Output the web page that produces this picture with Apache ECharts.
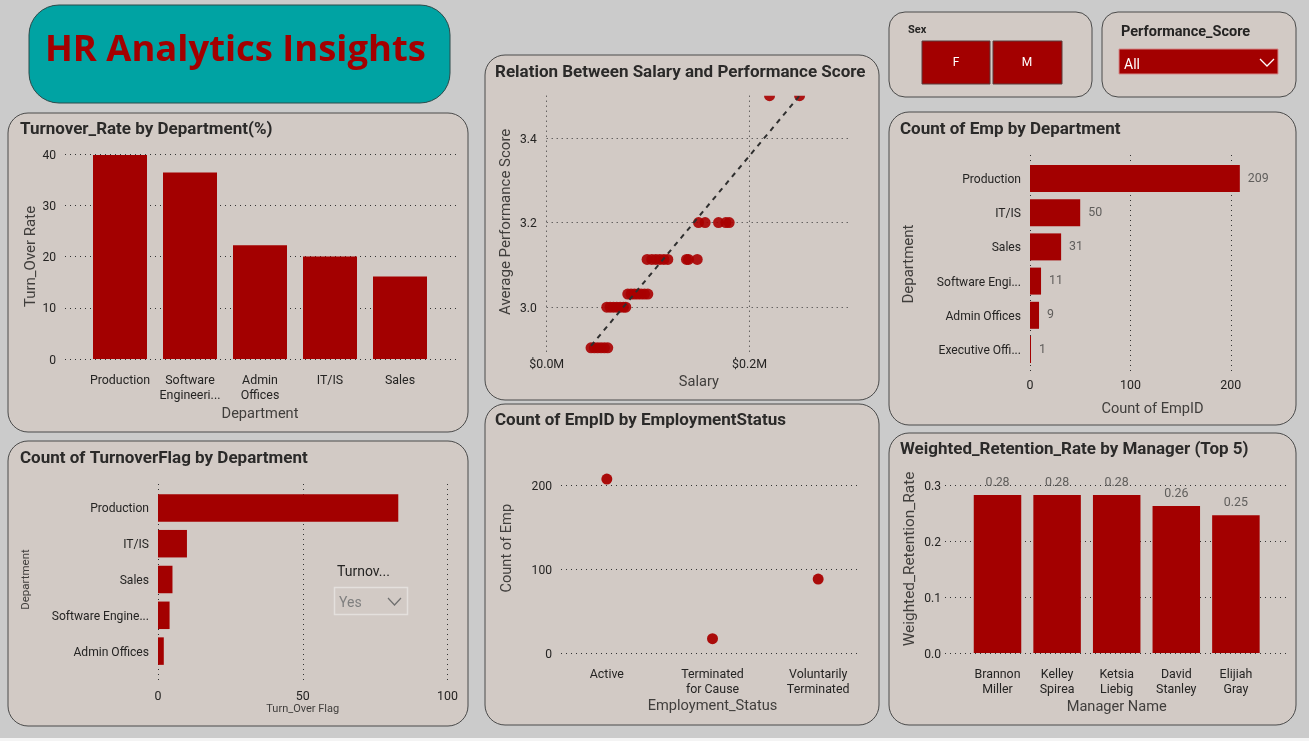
<!DOCTYPE html>
<html><head><meta charset="utf-8">
<style>html,body{margin:0;padding:0;background:#cbcbcb}#c{width:1309px;height:741px}</style>
<script src="https://cdn.jsdelivr.net/npm/echarts@6/dist/echarts.min.js"></script>
</head><body><div id="c"></div>
<script>
const rateDepts = ['Production','Software\nEngineeri...','Admin\nOffices','IT/IS','Sales'];
const rateValues = [39.8,36.4,22.2,20,16.1];
const flagDepts = ['Production','IT/IS','Sales','Software Engine...','Admin Offices'];
const flagValues = [83,10,5,4,2];
const statusCats = ['Active','Terminated\nfor Cause','Voluntarily\nTerminated'];
const statusValues = [207,17,88];
const empDepts = ['Production','IT/IS','Sales','Software Engi...','Admin Offices','Executive Offi...'];
const empValues = [209,50,31,11,9,1];
const managers = ['Brannon\nMiller','Kelley\nSpirea','Ketsia\nLiebig','David\nStanley','Elijiah\nGray'];
const retention = [0.282,0.282,0.282,0.2625,0.246];
const retentionLabels = ['0.28','0.28','0.28','0.26','0.25'];
const salaryPoints = [
 [0.0437,2.904],[0.0470,2.904],[0.0503,2.904],[0.0536,2.904],[0.0569,2.904],[0.0602,2.904],
 [0.0592,3.0],[0.0625,3.0],[0.0658,3.0],[0.0691,3.0],[0.0724,3.0],[0.0757,3.0],[0.0780,3.0],
 [0.0799,3.031],[0.0832,3.031],[0.0865,3.031],[0.0898,3.031],[0.0931,3.031],[0.0964,3.031],[0.0997,3.031],
 [0.0990,3.113],[0.1036,3.113],[0.1076,3.113],[0.1115,3.113],[0.1155,3.113],[0.1194,3.113],[0.1378,3.113],[0.1398,3.113],[0.1484,3.113],
 [0.1497,3.2],[0.1562,3.2],[0.1694,3.2],[0.1766,3.2],[0.1799,3.2],
 [0.2197,3.5],[0.2493,3.5]
];
const trendLine = [[0.0437,2.9086],[0.2493,3.5]];

const RED='#A30000', PANEL='#D2CAC5', FONT='Roboto, sans-serif', DARK='#252423', NAME='#403E3C';
const dotted={show:true,lineStyle:{type:[1,4],color:'#333',width:1}};
const tick={fontFamily:FONT,fontSize:12.4,color:DARK};
const yTick=Object.assign({},tick,{fontSize:12.1,verticalAlign:'top',lineHeight:3});
const nm=(size,padding)=>({fontFamily:FONT,fontSize:size||14.6,color:NAME,padding:padding||0});
const none={show:false};

const panels=[[8,113,460,319],[8,441,460,285],[485,55,394,345],[485,404,394,321],[889,112,407,313],[889,433,407,292],[889,12,203,85],[1102,12,194,85]];
const graphic=[
 {type:'rect',z:-5,shape:{x:0,y:738,width:1309,height:3},style:{fill:'#f4f4f4'}},
 {type:'rect',z:-4,shape:{x:29,y:5,width:421,height:98,r:30},style:{fill:'#00A3A3',stroke:'#2b4a4a',lineWidth:1}}
];
panels.forEach(p=>graphic.push({type:'rect',z:-4,shape:{x:p[0],y:p[1],width:p[2],height:p[3],r:p[3]>100?20:16},style:{fill:PANEL,stroke:'#4a4a4a',lineWidth:1}}));
graphic.push(
 {type:'rect',z:8,shape:{x:755,y:86,width:55,height:9.7},style:{fill:PANEL}},
 {type:'rect',z:5,shape:{x:922,y:41,width:68,height:43},style:{fill:RED,stroke:'#5a3a3a',lineWidth:1}},
 {type:'rect',z:5,shape:{x:993,y:41,width:69,height:43},style:{fill:RED,stroke:'#5a3a3a',lineWidth:1}},
 {type:'text',z:6,style:{x:956,y:63,text:'F',align:'center',verticalAlign:'middle',fill:'#fff',font:'12px '+FONT}},
 {type:'text',z:6,style:{x:1027,y:63,text:'M',align:'center',verticalAlign:'middle',fill:'#fff',font:'12px '+FONT}},
 {type:'rect',z:5,shape:{x:1119,y:49,width:159,height:25},style:{fill:RED,stroke:'#d58a8a',lineWidth:1}},
 {type:'text',z:6,style:{x:1124,y:65,text:'All',verticalAlign:'middle',fill:'#fff',font:'14px '+FONT}},
 {type:'polyline',z:6,shape:{points:[[1260,59],[1267,66],[1274,59]]},style:{stroke:'#fff',lineWidth:1.3,fill:null}},
 {type:'rect',z:5,shape:{x:334.5,y:587.5,width:73,height:27},style:{fill:PANEL,stroke:'#e4e0dd',lineWidth:1.5}},
 {type:'text',z:6,style:{x:339,y:603,text:'Yes',verticalAlign:'middle',fill:'#7f7f7f',font:'14px '+FONT}},
 {type:'polyline',z:6,shape:{points:[[388,598],[394.5,605],[401,598]]},style:{stroke:'#6f6f6f',lineWidth:1.2,fill:null}},
 {type:'text',z:6,style:{x:337,y:572,text:'Turnov...',verticalAlign:'middle',fill:DARK,font:'14px '+FONT}}
);
const ttl=(text,left,top,size,color,family)=>({text,left,top,padding:0,textStyle:{fontFamily:family||FONT,fontSize:size||17,fontWeight:'bold',color:color||'#2b2a29'}});
const title=[
 ttl('HR Analytics Insights',45,33,36.4,RED,'"Open Sans", sans-serif'),
 ttl('Turnover_Rate by Department(%)',20,121),
 ttl('Count of TurnoverFlag by Department',20,450),
 ttl('Relation Between Salary and Performance Score',495,64),
 ttl('Count of EmpID by EmploymentStatus',495,412),
 ttl('Count of Emp by Department',900,121),
 ttl('Weighted_Retention_Rate by Manager (Top 5)',900,441),
 {text:'Sex',left:908,top:25,padding:0,textStyle:{fontFamily:FONT,fontSize:11,fontWeight:'bold',color:DARK}},
 ttl('Performance_Score',1121,25,14.5,DARK)
];
const box=(l,t,r,b)=>({left:l,top:t,width:r-l,height:b-t,containLabel:false});
const grid=[
 box(85,154,435,359), box(65,154,458,359),
 box(158,490,447.5,669), box(158,484,447.5,683),
 box(546.7,95.7,851,352),
 box(554,451.4,871,653), box(561,451.4,860,653),
 box(1030,161.4,1281,366.6), box(1030,155,1281,372),
 box(967.7,485,1265.7,653), box(945,485,1287,653)
];
const hidVal=(g,min,max,extra)=>Object.assign({type:'value',gridIndex:g,min,max,show:false},extra||{});
const catX=(g,data,name,gap)=>({type:'category',gridIndex:g,data,axisLine:none,axisTick:none,splitLine:none,
  axisLabel:Object.assign({interval:0,margin:14,lineHeight:15},tick),name,nameLocation:'middle',nameGap:gap,nameTextStyle:nm()});
const catY=(g,data,name,gap,ns)=>({type:'category',gridIndex:g,data,inverse:true,axisLine:none,axisTick:none,splitLine:none,
  axisLabel:Object.assign({interval:0,margin:9},yTick),name,nameLocation:'middle',nameGap:gap,nameTextStyle:ns||nm()});
const valY=(g,min,max,interval,name,gap,fmt,ns,margin)=>({type:'value',gridIndex:g,min,max,interval,axisLine:none,axisTick:none,
  splitLine:Object.assign({showMaxLine:true},dotted),
  axisLabel:Object.assign({margin:margin||9,showMaxLabel:true,formatter:fmt},yTick),name,nameLocation:'middle',nameGap:gap,nameTextStyle:ns||nm()});
const valX=(g,min,max,interval,name,gap,ns,hideEnd)=>({type:'value',gridIndex:g,min,max,interval,axisLine:none,axisTick:none,
  splitLine:Object.assign({showMaxLine:!hideEnd},dotted),
  axisLabel:Object.assign({margin:8,showMaxLabel:!hideEnd},tick),name,nameLocation:'middle',nameGap:gap,nameTextStyle:ns||nm()});

const xAxis=[
 catX(0,rateDepts,'Department',48), hidVal(1,0,1),
 hidVal(2,0,100), valX(3,0,100,50,'Turn_Over Flag',20,nm(11)),
 Object.assign(valX(4,0,0.3,0.2,'Salary',23,null,true),{axisLabel:Object.assign({margin:7,showMaxLabel:false,formatter:v=>'$'+v.toFixed(1)+'M'},tick)}),
 catX(5,statusCats,'Employment_Status',46), hidVal(6,0,1),
 hidVal(7,0,250), valX(8,0,250,100,'Count of EmpID',30,nm(14.6,[0,6,0,0]),true),
 catX(9,managers,'Manager Name',47), hidVal(10,0,1)
];
const yAxis=[
 hidVal(0,0,40), valY(1,0,40,10,'Turn_Over Rate',25),
 catY(2,flagDepts,'Department',126,nm(11.5)), hidVal(3,0,1),
 Object.assign(valY(4,2.8,3.5,0.2,'Average Performance Score',33,v=>v.toFixed(1),nm(15,[0,0,0,4])),{min:2.894,max:3.5,
   axisLabel:Object.assign({margin:10,customValues:[3.0,3.2,3.4],formatter:v=>v.toFixed(1)},yTick),
   axisTick:{show:false,customValues:[3.0,3.2,3.4]}}),
 hidVal(5,0,240), valY(6,0,240,100,'Count of Emp',46,null,nm(14.6,[0,0,0,8])),
 catY(7,empDepts,'Department',113,nm(15)), hidVal(8,0,1),
 hidVal(9,0,0.3), valY(10,0,0.3,0.1,'Weighted_Retention_Rate',27,v=>v.toFixed(1),nm(15.4,[0,0,0,20]),4)
];
yAxis[1].nameTextStyle=nm(15);
yAxis[6].splitLine.showMaxLine=false; yAxis[6].axisLabel.showMaxLabel=false;
const barItem={color:RED};
const series=[
 {type:'bar',xAxisIndex:0,yAxisIndex:0,data:rateValues,barWidth:54,itemStyle:barItem,z:3},
 {type:'bar',xAxisIndex:2,yAxisIndex:2,data:flagValues,barWidth:27.5,itemStyle:barItem,z:3},
 {type:'scatter',xAxisIndex:4,yAxisIndex:4,data:salaryPoints,symbolSize:11,itemStyle:{color:'#A80000',opacity:0.9},z:3},
 {type:'line',xAxisIndex:4,yAxisIndex:4,data:trendLine,symbol:'none',lineStyle:{color:'#2f2f2f',width:2,type:[5,5]},z:4,silent:true},
 {type:'scatter',xAxisIndex:5,yAxisIndex:5,data:statusValues,symbolSize:11,itemStyle:{color:'#A80000',opacity:0.95},z:3},
 {type:'bar',xAxisIndex:7,yAxisIndex:7,data:empValues,barWidth:27,itemStyle:barItem,z:3,
  label:{show:true,position:'right',distance:8,fontFamily:FONT,fontSize:12.4,color:'#605E5C'}},
 {type:'bar',xAxisIndex:9,yAxisIndex:9,data:retention,barWidth:47.5,itemStyle:barItem,z:3,
  label:{show:true,position:'top',distance:6,fontFamily:FONT,fontSize:12.4,color:'#605E5C',formatter:p=>retentionLabels[p.dataIndex]}}
];
const chart=echarts.init(document.getElementById('c'),null,{renderer:'canvas'});
chart.setOption({animation:false,backgroundColor:'#cbcbcb',tooltip:{show:false},title,graphic,grid,xAxis,yAxis,series});
</script></body></html>
